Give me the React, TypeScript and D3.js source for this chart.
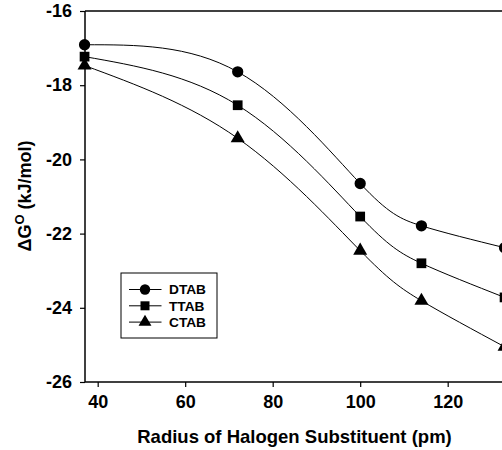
import { useEffect, useRef } from "react";
import * as d3 from "d3";

// halogen radius (pm) on x
const radius = [37, 72, 100, 114, 133];
const dtab = [-16.91, -17.64, -20.65, -21.79, -22.38];
const ttab = [-17.23, -18.54, -21.54, -22.8, -23.72];
const ctab = [-17.47, -19.43, -22.46, -23.81, -25.05];
const seriesNames = ["DTAB", "TTAB", "CTAB"];
const xTicks = [40, 60, 80, 100, 120];
const yTicks = [-26, -24, -22, -20, -18, -16];

const W = 502;
const H = 450;

export default function App() {
    const svgRef = useRef<SVGSVGElement>(null);

    useEffect(() => {
        const svg = d3.select(svgRef.current);
        svg.selectAll("*").remove();

        const left = 85, top = 11, bottom = 382;
        const x = d3.scaleLinear().domain([37.1, 133]).range([left, left + (133 - 37.1) * 4.375]);
        const y = d3.scaleLinear().domain([-26, -16]).range([bottom, top]);
        const font = "'Liberation Sans', Arial, sans-serif";

        // frame
        svg.append("line").attr("x1", left).attr("x2", x(133)).attr("y1", top).attr("y2", top)
            .attr("stroke", "#000").attr("stroke-width", 1.5);
        svg.append("line").attr("x1", x(133)).attr("x2", x(133)).attr("y1", top).attr("y2", bottom)
            .attr("stroke", "#000").attr("stroke-width", 1.5);

        const xAxis = svg.append("g").attr("transform", `translate(0,${bottom})`)
            .call(d3.axisBottom(x).tickValues(xTicks).tickSize(5).tickPadding(8).tickSizeOuter(0));
        const yAxis = svg.append("g").attr("transform", `translate(${left},0)`)
            .call(d3.axisLeft(y).tickValues(yTicks).tickSize(5).tickPadding(8).tickSizeOuter(0)
                .tickFormat(d => String(d)));
        [xAxis, yAxis].forEach(g => {
            g.select(".domain").attr("stroke-width", 1.5);
            g.selectAll(".tick line").attr("stroke-width", 1.2);
            g.selectAll(".tick text").attr("font-family", font).attr("font-weight", "bold")
                .attr("font-size", 18).attr("fill", "#000");
        });
        xAxis.select(".domain").attr("d", `M${left},0H${x(133)}`);
        yAxis.select(".domain").attr("d", `M0,${top}V${bottom}`);

        const data = [dtab, ttab, ctab];
        const line = d3.line<number>().x((d, i) => x(radius[i])).y(d => y(d)).curve(d3.curveNatural);
        const symbols = [d3.symbolCircle, d3.symbolSquare, d3.symbolTriangle];
        const sizes = [100, 95, 85];

        data.forEach((vals, k) => {
            svg.append("path").attr("d", line(vals)).attr("fill", "none")
                .attr("stroke", "#000").attr("stroke-width", 1);
            svg.selectAll(`.pt${k}`).data(vals).join("path")
                .attr("class", `pt${k}`)
                .attr("transform", (d, i) => `translate(${x(radius[i])},${y(d)})`)
                .attr("d", d3.symbol(symbols[k], sizes[k]))
                .attr("fill", "#000");
        });

        // legend
        const lg = svg.append("g");
        lg.append("rect").attr("x", 121).attr("y", 273).attr("width", 96).attr("height", 65)
            .attr("fill", "#fff").attr("stroke", "#000").attr("stroke-width", 1);
        seriesNames.forEach((name, k) => {
            const ly = 289.5 + k * 16.3;
            lg.append("line").attr("x1", 129).attr("x2", 161.5).attr("y1", ly).attr("y2", ly)
                .attr("stroke", "#000").attr("stroke-width", 1);
            lg.append("path").attr("transform", `translate(145,${ly})`)
                .attr("d", d3.symbol(symbols[k], sizes[k] * 0.85)).attr("fill", "#000");
            lg.append("text").attr("x", 169).attr("y", ly).attr("dy", "0.36em")
                .attr("font-family", font).attr("font-weight", "bold").attr("font-size", 13.7)
                .text(name);
        });

        // axis titles
        svg.append("text").attr("x", 294.5).attr("y", 443).attr("text-anchor", "middle")
            .attr("font-family", font).attr("font-weight", "bold").attr("font-size", 18.5)
            .text("Radius of Halogen Substituent (pm)");
        const yt = svg.append("text").attr("transform", "translate(31,196) rotate(-90)")
            .attr("text-anchor", "middle").attr("font-family", font).attr("font-weight", "bold")
            .attr("font-size", 18);
        yt.append("tspan").text("ΔG");
        yt.append("tspan").attr("font-size", 13).attr("dy", -7).text("O");
        yt.append("tspan").attr("dy", 7).text(" (kJ/mol)");
    }, []);

    return (
        <svg ref={svgRef} width={W} height={H}
            style={{ position: "absolute", left: 0, top: 0, background: "#fff" }} />
    );
}
